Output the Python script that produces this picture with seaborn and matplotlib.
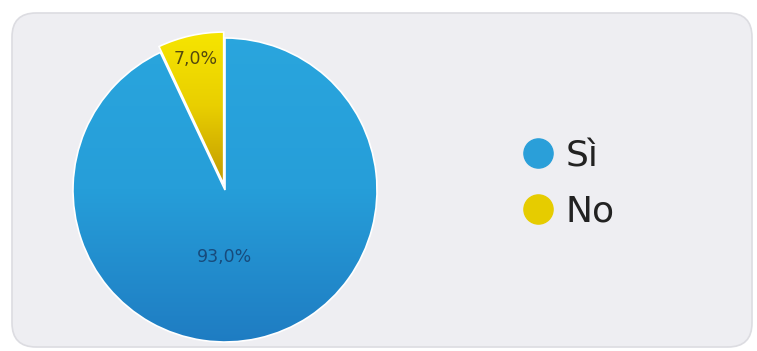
import numpy as np
import matplotlib
matplotlib.use("Agg")
import matplotlib.pyplot as plt
import seaborn as sns
from matplotlib.colors import LinearSegmentedColormap
from matplotlib.patches import FancyBboxPatch
from matplotlib.lines import Line2D

# Survey answers and their shares (percent)
categories = ["Sì", "No"]
shares = [93.0, 7.0]

# Colour ramps for each slice (top -> bottom)
slice_ramps = [
    ["#2aa6de", "#269ed9", "#1e79c0"],
    ["#f8e800", "#e9cf00", "#bf9600"],
]
legend_colors = ["#2a9fd9", "#e6cc00"]
label_colors = ["#174b7c", "#54490e"]

sns.set_theme(style="white")
plt.rcParams["font.family"] = ["DejaVu Sans"]

W, H = 757, 351
fig = plt.figure(figsize=(W / 100, H / 100), dpi=100)
fig.patch.set_facecolor("white")

# Rounded card behind the chart
panel = FancyBboxPatch(
    (0.12, 0.04), 7.40, 3.34,
    boxstyle="round,pad=0,rounding_size=0.24",
    transform=fig.dpi_scale_trans,
    facecolor="#eeeef2", edgecolor="#dcdce1", linewidth=1.2, zorder=-10,
)
fig.add_artist(panel)

# Pie axes: square box centred on the pie
r_px = 152
cx, cy = 225, H - 190
ax = fig.add_axes([(cx - 1.1 * r_px) / W, (cy - 1.1 * r_px) / H,
                   2.2 * r_px / W, 2.2 * r_px / H])
ax.patch.set_alpha(0)

wedges, _ = ax.pie(
    shares, startangle=90, counterclock=False, explode=[0, 0.04],
    wedgeprops=dict(edgecolor="white", linewidth=1.2, facecolor="none"),
)
ax.set_xlim(-1.1, 1.1)
ax.set_ylim(-1.1, 1.1)
ax.set_aspect("equal")
ax.axis("off")

# Vertical gradient fill clipped to each wedge
grad = np.linspace(1, 0, 256).reshape(-1, 1)
for w, ramp in zip(wedges, slice_ramps):
    cmap = LinearSegmentedColormap.from_list("ramp", ramp[::-1])
    x0, y0, x1, y1 = -1.1, -1.1, 1.1, 1.1
    if w is wedges[1]:
        y0 = 0.0
    im = ax.imshow(grad, cmap=cmap, extent=(x0, x1, y0, y1), aspect="auto",
                   origin="upper", zorder=1, interpolation="bicubic")
    im.set_clip_path(w)
    w.set_zorder(2)

# Percentage labels
def fmt(v):
    return f"{v:.1f}".replace(".", ",") + "%"

theta = np.deg2rad(90 - 360 * (shares[0] + shares[1] / 2) / 100)
ax.text(0.88 * np.cos(theta), 0.88 * np.sin(theta), fmt(shares[1]),
        ha="center", va="center", fontsize=12.5, color=label_colors[1], zorder=3)
ax.text(0, -0.44, fmt(shares[0]), ha="center", va="center",
        fontsize=12.5, color=label_colors[0], zorder=3)

# Legend with round markers
handles = [Line2D([], [], ls="", marker="o", markersize=21,
                  markerfacecolor=c, markeredgecolor=c) for c in legend_colors]
fig.legend(handles, categories, loc="center left",
           bbox_to_anchor=(520 / W, 0.476), frameon=False, fontsize=26,
           handlelength=1.0, handletextpad=0.25, labelspacing=0.6,
           borderpad=0, borderaxespad=0, labelcolor="#222222")

fig.savefig("out.png", dpi=100, facecolor="white")
